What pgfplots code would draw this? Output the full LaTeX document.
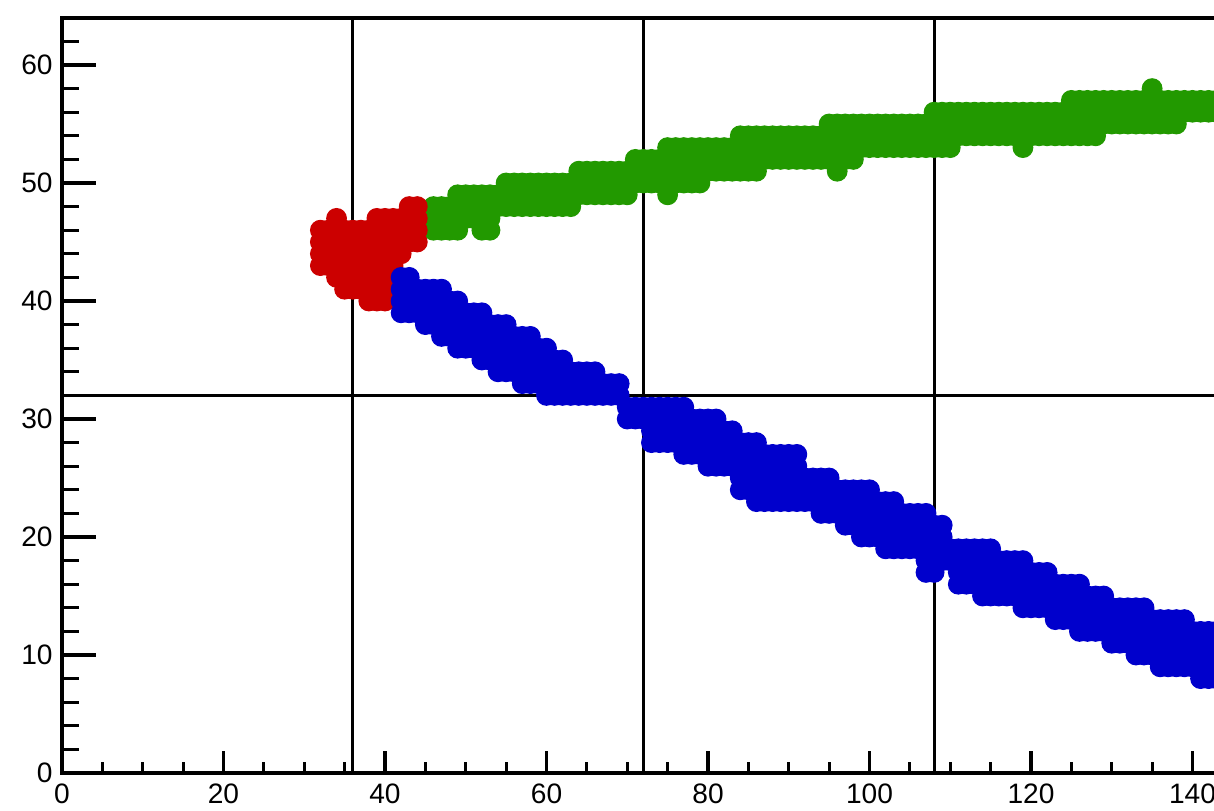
\documentclass[border=0pt]{standalone}
\usepackage{pgfplots}
\pgfplotsset{compat=1.18}
\usepackage{fontspec}
\setmainfont{Liberation Sans}
\definecolor{rootred}{RGB}{204,0,0}
\definecolor{rootgreen}{RGB}{34,153,0}
\definecolor{rootblue}{RGB}{0,0,204}
\pgfplotsset{
  rootframe/.style={
    scale only axis, width=14.4845cm, height=9.44cm,
    xmin=0, xmax=143.5, ymin=0, ymax=64,
    axis line style={line width=1.3pt},
    tick align=inside,
    tick style={line width=1.1pt, black},
    /pgf/number format/assume math mode=true,
    ticklabel style={font=\fontsize{10}{12}\selectfont, inner sep=0pt},
  },
  dots/.style={only marks, mark=*, mark size=3.5pt},
}
\begin{document}
\begin{tikzpicture}
% the reference is cut off at x ~ 142.7, so the page stops there
\path[use as bounding box] (-0.775cm,-0.4625cm) rectangle (14.4cm,9.6625cm);

\begin{axis}[rootframe,
  xtick={0,20,...,140}, minor xtick={5,10,...,140}, xtick pos=left,
  ytick=\empty,
  major tick length=0.275cm, minor tick length=0.14cm,
  xticklabel style={yshift=-0.125cm},
]
% grid lines under the data
\draw[line width=1pt] (axis cs:36,0) -- (axis cs:36,64);
\draw[line width=1pt] (axis cs:72,0) -- (axis cs:72,64);
\draw[line width=1pt] (axis cs:0,32) -- (axis cs:143.5,32);

% green
\addplot[dots, color=rootgreen] coordinates {
(46,46)(46,47)(46,48)
(47,46)(47,47)(47,48)
(48,46)(48,47)(48,48)
(49,46)(49,47)(49,48)(49,49)
(50,47)(50,48)(50,49)
(51,47)(51,48)(51,49)
(52,46)(52,47)(52,48)(52,49)
(53,46)(53,47)(53,48)(53,49)
(54,48)(54,49)
(55,48)(55,49)(55,50)
(56,48)(56,49)(56,50)
(57,48)(57,49)(57,50)
(58,48)(58,49)(58,50)
(59,48)(59,49)(59,50)
(60,48)(60,49)(60,50)
(61,48)(61,49)(61,50)
(62,48)(62,49)(62,50)
(63,48)(63,49)(63,50)
(64,49)(64,50)(64,51)
(65,49)(65,50)(65,51)
(66,49)(66,50)(66,51)
(67,49)(67,50)(67,51)
(68,49)(68,50)(68,51)
(69,49)(69,50)(69,51)
(70,49)(70,50)(70,51)
(71,50)(71,51)(71,52)
(72,50)(72,51)(72,52)
(73,50)(73,51)(73,52)
(74,50)(74,51)(74,52)
(75,49)(75,50)(75,51)(75,52)(75,53)
(76,50)(76,51)(76,52)(76,53)
(77,50)(77,51)(77,52)(77,53)
(78,50)(78,51)(78,52)(78,53)
(79,50)(79,51)(79,52)(79,53)
(80,51)(80,52)(80,53)
(81,51)(81,52)(81,53)
(82,51)(82,52)(82,53)
(83,51)(83,52)(83,53)
(84,51)(84,52)(84,53)(84,54)
(85,51)(85,52)(85,53)(85,54)
(86,51)(86,52)(86,53)(86,54)
(87,52)(87,53)(87,54)
(88,52)(88,53)(88,54)
(89,52)(89,53)(89,54)
(90,52)(90,53)(90,54)
(91,52)(91,53)(91,54)
(92,52)(92,53)(92,54)
(93,52)(93,53)(93,54)
(94,52)(94,53)(94,54)
(95,52)(95,53)(95,54)(95,55)
(96,51)(96,52)(96,53)(96,54)(96,55)
(97,52)(97,53)(97,54)(97,55)
(98,52)(98,53)(98,54)(98,55)
(99,53)(99,54)(99,55)
(100,53)(100,54)(100,55)
(101,53)(101,54)(101,55)
(102,53)(102,54)(102,55)
(103,53)(103,54)(103,55)
(104,53)(104,54)(104,55)
(105,53)(105,54)(105,55)
(106,53)(106,54)(106,55)
(107,53)(107,54)(107,55)
(108,53)(108,54)(108,55)(108,56)
(109,53)(109,54)(109,55)(109,56)
(110,53)(110,54)(110,55)(110,56)
(111,54)(111,55)(111,56)
(112,54)(112,55)(112,56)
(113,54)(113,55)(113,56)
(114,54)(114,55)(114,56)
(115,54)(115,55)(115,56)
(116,54)(116,55)(116,56)
(117,54)(117,55)(117,56)
(118,54)(118,55)(118,56)
(119,53)(119,54)(119,55)(119,56)
(120,54)(120,55)(120,56)
(121,54)(121,55)(121,56)
(122,54)(122,55)(122,56)
(123,54)(123,55)(123,56)
(124,54)(124,55)(124,56)
(125,54)(125,55)(125,56)(125,57)
(126,54)(126,55)(126,56)(126,57)
(127,54)(127,55)(127,56)(127,57)
(128,54)(128,55)(128,56)(128,57)
(129,55)(129,56)(129,57)
(130,55)(130,56)(130,57)
(131,55)(131,56)(131,57)
(132,55)(132,56)(132,57)
(133,55)(133,56)(133,57)
(134,55)(134,56)(134,57)
(135,55)(135,56)(135,57)(135,58)
(136,55)(136,56)(136,57)
(137,55)(137,56)(137,57)
(138,55)(138,56)(138,57)
(139,56)(139,57)
(140,56)(140,57)
(141,56)(141,57)
(142,56)(142,57)
(143,56)(143,57)
};

% red
\addplot[dots, color=rootred] coordinates {
(32,43)(32,44)(32,45)(32,46)
(33,43)(33,44)(33,45)(33,46)
(34,42)(34,43)(34,44)(34,45)(34,46)(34,47)
(35,41)(35,42)(35,43)(35,44)(35,45)(35,46)
(36,41)(36,42)(36,43)(36,44)(36,45)(36,46)
(37,41)(37,42)(37,43)(37,44)(37,45)(37,46)
(38,40)(38,41)(38,42)(38,43)(38,44)(38,45)(38,46)
(39,40)(39,41)(39,42)(39,43)(39,44)(39,45)(39,46)(39,47)
(40,40)(40,41)(40,42)(40,43)(40,44)(40,45)(40,46)(40,47)
(41,41)(41,42)(41,43)(41,44)(41,45)(41,46)(41,47)
(42,44)(42,45)(42,46)(42,47)
(43,45)(43,46)(43,47)(43,48)
(44,45)(44,46)(44,47)(44,48)
};

% blue
\addplot[dots, color=rootblue] coordinates {
(42,39)(42,40)(42,41)(42,42)
(43,39)(43,40)(43,41)(43,42)
(44,39)(44,40)(44,41)
(45,38)(45,39)(45,40)(45,41)
(46,38)(46,39)(46,40)(46,41)
(47,37)(47,38)(47,39)(47,40)(47,41)
(48,37)(48,38)(48,39)(48,40)
(49,36)(49,37)(49,38)(49,39)(49,40)
(50,36)(50,37)(50,38)(50,39)
(51,36)(51,37)(51,38)(51,39)
(52,35)(52,36)(52,37)(52,38)(52,39)
(53,35)(53,36)(53,37)(53,38)
(54,34)(54,35)(54,36)(54,37)(54,38)
(55,34)(55,35)(55,36)(55,37)(55,38)
(56,34)(56,35)(56,36)(56,37)
(57,33)(57,34)(57,35)(57,36)(57,37)
(58,33)(58,34)(58,35)(58,36)(58,37)
(59,33)(59,34)(59,35)(59,36)
(60,32)(60,33)(60,34)(60,35)(60,36)
(61,32)(61,33)(61,34)(61,35)
(62,32)(62,33)(62,34)(62,35)
(63,32)(63,33)(63,34)
(64,32)(64,33)(64,34)
(65,32)(65,33)(65,34)
(66,32)(66,33)(66,34)
(67,32)(67,33)
(68,32)(68,33)
(69,32)(69,33)
(70,30)(70,31)
(71,30)(71,31)
(72,30)(72,31)
(73,28)(73,29)(73,30)(73,31)
(74,28)(74,29)(74,30)(74,31)
(75,28)(75,29)(75,30)(75,31)
(76,28)(76,29)(76,30)(76,31)
(77,27)(77,28)(77,29)(77,30)(77,31)
(78,27)(78,28)(78,29)(78,30)
(79,27)(79,28)(79,29)(79,30)
(80,26)(80,27)(80,28)(80,29)(80,30)
(81,26)(81,27)(81,28)(81,29)(81,30)
(82,26)(82,27)(82,28)(82,29)
(83,26)(83,27)(83,28)(83,29)
(84,24)(84,25)(84,26)(84,27)(84,28)
(85,24)(85,25)(85,26)(85,27)(85,28)
(86,23)(86,24)(86,25)(86,26)(86,27)(86,28)
(87,23)(87,24)(87,25)(87,26)(87,27)
(88,23)(88,24)(88,25)(88,26)(88,27)
(89,23)(89,24)(89,25)(89,26)(89,27)
(90,23)(90,24)(90,25)(90,26)(90,27)
(91,23)(91,24)(91,25)(91,26)(91,27)
(92,23)(92,24)(92,25)
(93,23)(93,24)(93,25)
(94,22)(94,23)(94,24)(94,25)
(95,22)(95,23)(95,24)(95,25)
(96,22)(96,23)(96,24)
(97,21)(97,22)(97,23)(97,24)
(98,21)(98,22)(98,23)(98,24)
(99,20)(99,21)(99,22)(99,23)(99,24)
(100,20)(100,21)(100,22)(100,23)(100,24)
(101,20)(101,21)(101,22)(101,23)
(102,19)(102,20)(102,21)(102,22)(102,23)
(103,19)(103,20)(103,21)(103,22)(103,23)
(104,19)(104,20)(104,21)(104,22)
(105,19)(105,20)(105,21)(105,22)
(106,19)(106,20)(106,21)(106,22)
(107,17)(107,18)(107,19)(107,20)(107,21)(107,22)
(108,17)(108,18)(108,19)(108,20)(108,21)
(109,18)(109,19)(109,20)(109,21)
(110,18)(110,19)
(111,16)(111,17)(111,18)(111,19)
(112,16)(112,17)(112,18)(112,19)
(113,16)(113,17)(113,18)(113,19)
(114,15)(114,16)(114,17)(114,18)(114,19)
(115,15)(115,16)(115,17)(115,18)(115,19)
(116,15)(116,16)(116,17)(116,18)
(117,15)(117,16)(117,17)(117,18)
(118,15)(118,16)(118,17)(118,18)
(119,14)(119,15)(119,16)(119,17)(119,18)
(120,14)(120,15)(120,16)(120,17)
(121,14)(121,15)(121,16)(121,17)
(122,14)(122,15)(122,16)(122,17)
(123,13)(123,14)(123,15)(123,16)
(124,13)(124,14)(124,15)(124,16)
(125,13)(125,14)(125,15)(125,16)
(126,12)(126,13)(126,14)(126,15)(126,16)
(127,12)(127,13)(127,14)(127,15)
(128,12)(128,13)(128,14)(128,15)
(129,12)(129,13)(129,14)(129,15)
(130,11)(130,12)(130,13)(130,14)
(131,11)(131,12)(131,13)(131,14)
(132,11)(132,12)(132,13)(132,14)
(133,10)(133,11)(133,12)(133,13)(133,14)
(134,10)(134,11)(134,12)(134,13)(134,14)
(135,10)(135,11)(135,12)(135,13)
(136,9)(136,10)(136,11)(136,12)(136,13)
(137,9)(137,10)(137,11)(137,12)(137,13)
(138,9)(138,10)(138,11)(138,12)(138,13)
(139,9)(139,10)(139,11)(139,12)(139,13)
(140,9)(140,10)(140,11)(140,12)
(141,8)(141,9)(141,10)(141,11)(141,12)
(142,8)(142,9)(142,10)(142,11)(142,12)
(143,8)(143,9)(143,10)(143,11)(143,12)
};

% this one sits on top of the points
\draw[line width=1pt] (axis cs:108,0) -- (axis cs:108,64);
\end{axis}

% y ticks are longer than x ticks, so a second frame carries them
\begin{axis}[rootframe,
  xtick=\empty,
  ytick={0,10,...,60}, minor ytick={2,4,...,62}, ytick pos=left,
  major tick length=0.425cm, minor tick length=0.21cm,
  yticklabel style={xshift=-0.11cm},
]
\end{axis}
\end{tikzpicture}
\end{document}
